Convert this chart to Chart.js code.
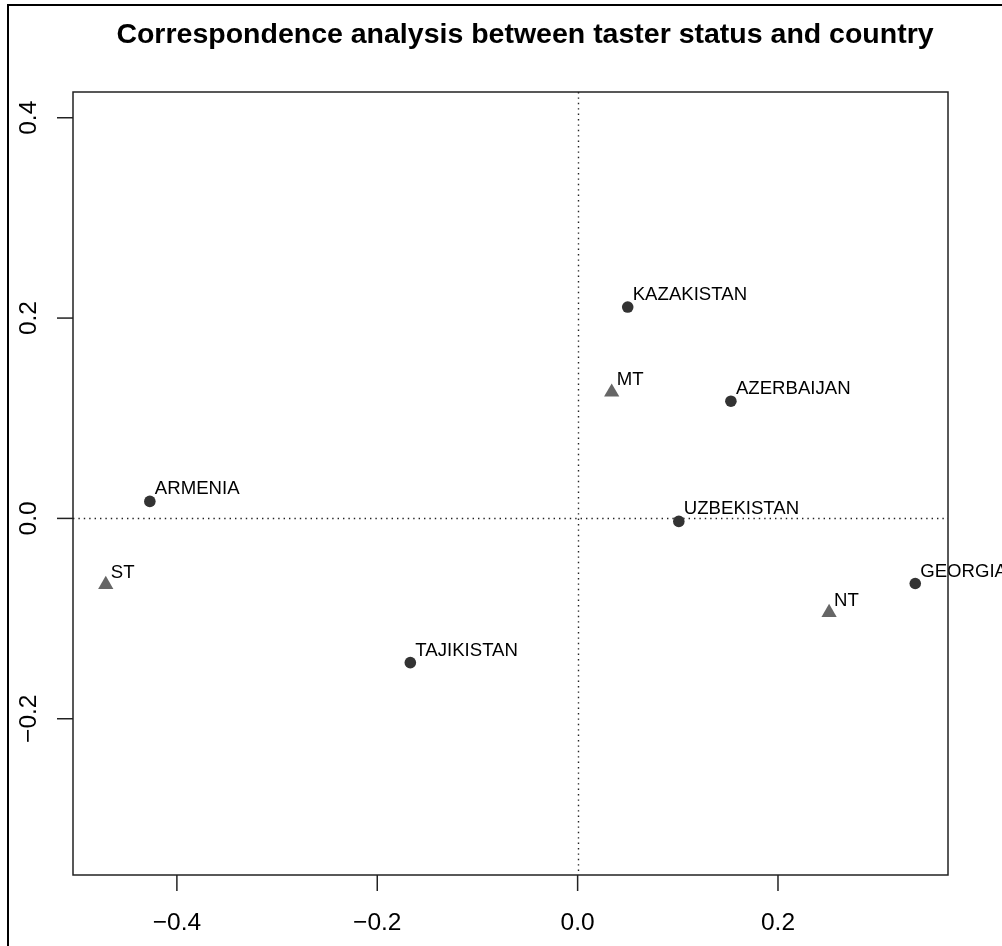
<!DOCTYPE html>
<html>
<head>
<meta charset="utf-8">
<script src="https://cdn.jsdelivr.net/npm/chart.js@4/dist/chart.umd.min.js"></script>
<style>
  html, body { margin: 0; padding: 0; background: #fff; }
  #wrap { width: 1002px; height: 946px; }
</style>
</head>
<body>
<div id="wrap"><canvas id="caChart" width="1002" height="946"></canvas></div>
<script>
// Country coordinates (dimension 1, dimension 2)
const countryNames = ["KAZAKISTAN", "AZERBAIJAN", "ARMENIA", "UZBEKISTAN", "GEORGIA", "TAJIKISTAN"];
const countryX = [0.050, 0.153, -0.427, 0.101, 0.337, -0.167];
const countryY = [0.211, 0.117, 0.017, -0.003, -0.065, -0.144];

// Taster status coordinates
const statusNames = ["MT", "ST", "NT"];
const statusX = [0.034, -0.471, 0.251];
const statusY = [0.126, -0.066, -0.094];

const xTicks = [-0.4, -0.2, 0.0, 0.2];
const yTicks = [-0.2, 0.0, 0.2, 0.4];
const xRange = [-0.5037, 0.3697];
const yRange = [-0.356, 0.4257];

const chartTitle = "Correspondence analysis between taster status and country";

const FONT = "'Liberation Sans', Arial, Helvetica, sans-serif";

function fmt(v) {
    return v.toFixed(1).replace("-", "\u2212");
}

// R-style decorations: frame, title, box, ticks, zero lines, point labels
const rStylePlugin = {
    id: "rStyle",
    beforeDatasetsDraw(chart) {
        const ctx = chart.ctx;
        const area = chart.chartArea;
        const x0 = chart.scales.x.getPixelForValue(0);
        const y0 = chart.scales.y.getPixelForValue(0);
        ctx.save();
        ctx.strokeStyle = "#222";
        ctx.lineWidth = 1.4;
        ctx.setLineDash([1.4, 4]);
        ctx.beginPath();
        ctx.moveTo(Math.round(x0) + 0.5, area.top);
        ctx.lineTo(Math.round(x0) + 0.5, area.bottom);
        ctx.moveTo(area.left, Math.round(y0) + 0.5);
        ctx.lineTo(area.right, Math.round(y0) + 0.5);
        ctx.stroke();
        ctx.restore();
    },
    afterDatasetsDraw(chart) {
        const ctx = chart.ctx;
        ctx.save();
        ctx.fillStyle = "#000";
        ctx.font = "18.6px " + FONT;
        ctx.textAlign = "left";
        ctx.textBaseline = "alphabetic";
        chart.data.datasets.forEach((ds, i) => {
            const meta = chart.getDatasetMeta(i);
            meta.data.forEach((pt, j) => {
                ctx.fillText(ds.names[j], pt.x + 5, pt.y - 7);
            });
        });
        ctx.restore();
    },
    afterDraw(chart) {
        const ctx = chart.ctx;
        const area = chart.chartArea;
        const sx = chart.scales.x;
        const sy = chart.scales.y;
        ctx.save();

        // outer frame
        ctx.strokeStyle = "#000";
        ctx.lineWidth = 2;
        ctx.beginPath();
        ctx.moveTo(8, 960);
        ctx.lineTo(8, 5);
        ctx.lineTo(1010, 5);
        ctx.stroke();

        // plot box
        ctx.lineWidth = 1.5;
        ctx.strokeStyle = "#222";
        ctx.strokeRect(area.left, area.top, area.right - area.left, area.bottom - area.top);

        // title
        ctx.fillStyle = "#000";
        ctx.font = "bold 28.5px " + FONT;
        ctx.textAlign = "center";
        ctx.textBaseline = "alphabetic";
        ctx.fillText(chartTitle, 525, 43);

        // x axis ticks
        ctx.font = "24.5px " + FONT;
        ctx.lineWidth = 1.5;
        ctx.textBaseline = "middle";
        xTicks.forEach(v => {
            const px = sx.getPixelForValue(v);
            ctx.beginPath();
            ctx.moveTo(px, area.bottom);
            ctx.lineTo(px, area.bottom + 16);
            ctx.stroke();
            ctx.fillText(fmt(v), px, 923);
        });

        // y axis ticks (rotated labels)
        yTicks.forEach(v => {
            const py = sy.getPixelForValue(v);
            ctx.beginPath();
            ctx.moveTo(area.left, py);
            ctx.lineTo(area.left - 16, py);
            ctx.stroke();
            ctx.save();
            ctx.translate(29, py);
            ctx.rotate(-Math.PI / 2);
            ctx.fillText(fmt(v), 0, 0);
            ctx.restore();
        });
        ctx.restore();
    }
};

const countryPoints = countryX.map((x, i) => ({ x: x, y: countryY[i] }));
const statusPoints = statusX.map((x, i) => ({ x: x, y: statusY[i] }));

new Chart(document.getElementById("caChart").getContext("2d"), {
    type: "scatter",
    data: {
        datasets: [{
            label: "Country",
            names: countryNames,
            data: countryPoints,
            pointStyle: "circle",
            pointRadius: 5.8,
            pointHoverRadius: 5.8,
            backgroundColor: "#333333",
            borderColor: "#333333",
            borderWidth: 0,
        }, {
            label: "Taster status",
            names: statusNames,
            data: statusPoints,
            pointStyle: "triangle",
            pointRadius: 8.8,
            pointHoverRadius: 8.8,
            backgroundColor: "#666666",
            borderColor: "#666666",
            borderWidth: 0,
        }]
    },
    options: {
        responsive: false,
        animation: false,
        events: [],
        layout: {
            padding: { top: 92, right: 54, bottom: 0, left: 0 }
        },
        plugins: {
            legend: { display: false },
            title: { display: false },
            tooltip: { enabled: false },
        },
        scales: {
            x: {
                type: "linear",
                min: xRange[0],
                max: xRange[1],
                grid: { display: false },
                border: { display: false },
                ticks: { display: false },
                afterFit: scale => { scale.height = 71; },
            },
            y: {
                type: "linear",
                min: yRange[0],
                max: yRange[1],
                grid: { display: false },
                border: { display: false },
                ticks: { display: false },
                afterFit: scale => { scale.width = 73; },
            },
        },
    },
    plugins: [rStylePlugin],
});
</script>
</body>
</html>
